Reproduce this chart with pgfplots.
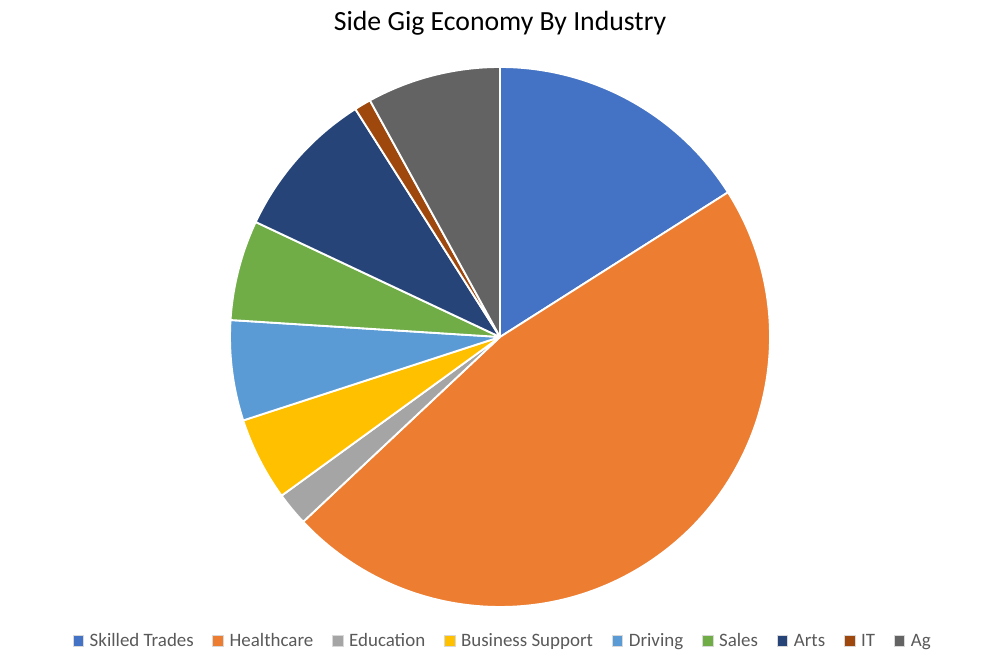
\documentclass[border=0pt]{standalone}
\usepackage{pgfplots}
\pgfplotsset{compat=1.18}
\usepackage{pgfplotstable}
\usepackage{fontspec}
\setmainfont{Carlito}

\definecolor{c0}{HTML}{4472C4}
\definecolor{c1}{HTML}{ED7D31}
\definecolor{c2}{HTML}{A5A5A5}
\definecolor{c3}{HTML}{FFC000}
\definecolor{c4}{HTML}{5B9BD5}
\definecolor{c5}{HTML}{70AD47}
\definecolor{c6}{HTML}{264478}
\definecolor{c7}{HTML}{9E480E}
\definecolor{c8}{HTML}{636363}
\definecolor{legtext}{HTML}{595959}

% share of each industry, percent
\pgfplotstableread[col sep=comma]{
name,value
Skilled Trades,16
Healthcare,47
Education,2
Business Support,5
Driving,6
Sales,6
Arts,9
IT,1
Ag,8
}\piedata

% start angle of each slice, clockwise from 12 o'clock
\newcommand\startangle{90}
\foreach \i in {0,...,8}{%
  \pgfplotstablegetelem{\i}{value}\of\piedata
  \expandafter\xdef\csname pa\i\endcsname{\startangle}%
  \pgfmathsetmacro\tmp{\startangle-3.6*\pgfplotsretval}%
  \xdef\startangle{\tmp}%
  \expandafter\xdef\csname pb\i\endcsname{\tmp}%
}

\begin{document}
\begin{tikzpicture}[x=0.75pt,y=0.75pt]
\begin{axis}[
  hide axis, scale only axis,
  width=750pt, height=499.5pt,
  xmin=0, xmax=1000, ymin=0, ymax=666,
  legend columns=9,
  legend style={at={(axis cs:503,25)}, anchor=center, draw=none, fill=none,
    font=\fontsize{14.2}{17}\selectfont\color{legtext},
    /tikz/every even column/.append style={column sep=12pt},
    /tikz/every odd column/.append style={column sep=2.5pt},
    legend cell align=left},
  legend image code/.code={\fill[#1,draw=white!85!black,line width=0.4pt] (0pt,-4pt) rectangle (8pt,4pt);},
]
\pgfplotsinvokeforeach{0,...,8}{
  \fill[c#1, draw=white, line width=1.4pt, line join=round]
    (axis cs:500,329) -- ++(\csname pa#1\endcsname:202.5pt)
    arc[start angle=\csname pa#1\endcsname, end angle=\csname pb#1\endcsname, radius=202.5pt] -- cycle;
}
\addlegendimage{c0}\addlegendentry{Skilled Trades}
\addlegendimage{c1}\addlegendentry{Healthcare}
\addlegendimage{c2}\addlegendentry{Education}
\addlegendimage{c3}\addlegendentry{Business Support}
\addlegendimage{c4}\addlegendentry{Driving}
\addlegendimage{c5}\addlegendentry{Sales}
\addlegendimage{c6}\addlegendentry{Arts}
\addlegendimage{c7}\addlegendentry{IT}
\addlegendimage{c8}\addlegendentry{Ag}
\node[font=\fontsize{20.8}{24}\selectfont, anchor=center] at (axis cs:500,643) {Side Gig Economy By Industry};
\end{axis}
\pgfresetboundingbox
\path[use as bounding box] (0,0) rectangle (1000,666);
\end{tikzpicture}
\end{document}
